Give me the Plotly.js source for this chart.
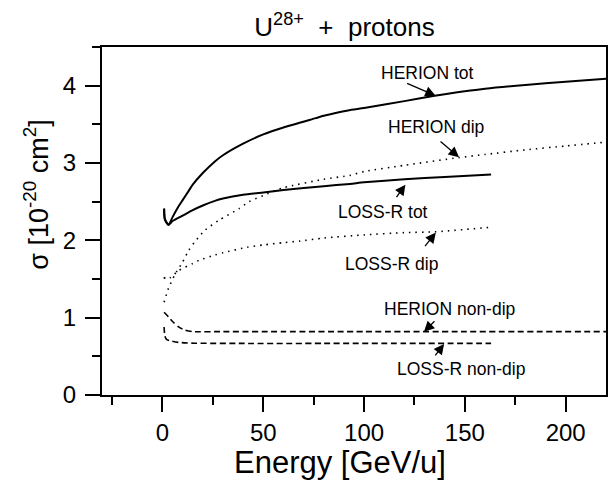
<!DOCTYPE html>
<html>
<head>
<meta charset="utf-8">
<script src="https://cdn.plot.ly/plotly-3.0.1.min.js"></script>
<style>html,body{margin:0;padding:0;background:#fff;}</style>
</head>
<body>
<div id="chart" style="width:613px;height:480px;"></div>
<script>
// Energy [GeV/u] and cross sections [1e-20 cm^2]
var herionTotE = [0.8, 1.2, 3, 5, 8, 10, 13, 15, 20, 26, 30, 40, 50, 60, 76, 80, 92, 100, 120, 135, 140, 160, 180, 200, 220];
var herionTotS = [2.41, 2.27, 2.2, 2.3, 2.44, 2.52, 2.64, 2.72, 2.87, 3.02, 3.1, 3.25, 3.37, 3.46, 3.58, 3.61, 3.68, 3.71, 3.8, 3.87, 3.89, 3.96, 4.01, 4.05, 4.09];

var lossTotE = [0.8, 1.2, 3, 5, 10, 15, 20, 26, 30, 40, 50, 60, 80, 93, 100, 120, 140, 163];
var lossTotS = [2.41, 2.27, 2.2, 2.25, 2.32, 2.39, 2.45, 2.51, 2.54, 2.59, 2.62, 2.65, 2.7, 2.73, 2.75, 2.79, 2.82, 2.85];

var herionDipE = [0.8, 3, 6, 10, 13, 16, 21, 28, 38, 43, 50, 60, 80, 93, 100, 120, 147, 160, 180, 200, 220];
var herionDipS = [1.2, 1.38, 1.55, 1.72, 1.87, 1.98, 2.13, 2.26, 2.41, 2.5, 2.58, 2.68, 2.79, 2.84, 2.89, 2.97, 3.07, 3.11, 3.17, 3.22, 3.27];

var lossDipE = [0.6, 2, 4, 8, 15, 18, 26, 30, 42, 50, 60, 68, 80, 100, 120, 135, 163];
var lossDipS = [1.52, 1.5, 1.52, 1.61, 1.7, 1.74, 1.81, 1.84, 1.91, 1.94, 1.97, 1.99, 2.03, 2.07, 2.1, 2.11, 2.17];

var herionNonE = [0.8, 3, 5, 8, 11, 15, 30, 60, 100, 150, 220];
var herionNonS = [1.07, 1.01, 0.95, 0.88, 0.84, 0.82, 0.82, 0.82, 0.82, 0.82, 0.82];

var lossNonE = [0.8, 1.2, 2, 4, 8, 16, 40, 80, 120, 163];
var lossNonS = [0.88, 0.76, 0.72, 0.7, 0.68, 0.67, 0.667, 0.667, 0.667, 0.667];

var labelText = ['HERION tot', 'HERION dip', 'LOSS-R tot', 'LOSS-R dip', 'HERION non-dip', 'LOSS-R non-dip'];
var labelE = [131.3, 135.7, 109.4, 113.4, 142.6, 148.1];
var labelS = [4.17, 3.46, 2.36, 1.69, 1.11, 0.34];
var arrowE = [135.5, 147.1, 120.5, 135.6, 129.7, 139.7];
var arrowS = [3.87, 3.075, 2.72, 2.1, 0.817, 0.66];
var arrowAx = [-30, -20, -10, -12, 12, -10];
var arrowAy = [-13, -17, 14, 15, -12, 13];

var FONT = 'Liberation Sans, Arial, sans-serif';

function tr(x, y, dash, w) {
  return {x: x, y: y, mode: 'lines', type: 'scatter', hoverinfo: 'skip',
          line: {color: '#000', width: w, dash: dash, shape: 'spline', smoothing: 0.6}};
}
var data = [
  tr(herionTotE, herionTotS, 'solid', 2),
  tr(lossTotE, lossTotS, 'solid', 2),
  tr(herionDipE, herionDipS, '1.5px,5px', 1.6),
  tr(lossDipE, lossDipS, '1.5px,5px', 1.6),
  tr(herionNonE, herionNonS, '6px,3.5px', 1.6),
  tr(lossNonE, lossNonS, '6px,3.5px', 1.6)
];

var ann = [];
for (var i = 0; i < labelText.length; i++) {
  ann.push({x: labelE[i], y: labelS[i], xref: 'x', yref: 'y', text: labelText[i], showarrow: false,
            font: {family: FONT, size: 17.5, color: '#000'}});
  ann.push({x: arrowE[i], y: arrowS[i], xref: 'x', yref: 'y', text: '', showarrow: true,
            ax: arrowAx[i], ay: arrowAy[i], arrowhead: 2, arrowsize: 1.6, arrowwidth: 1.3, arrowcolor: '#000'});
}
// axis titles placed as annotations for precise positioning
ann.push({xref: 'paper', yref: 'paper', x: -0.13, y: 0.577, xanchor: 'center', yanchor: 'middle',
          textangle: -90, showarrow: false, text: 'σ [10<sup>-20</sup> cm<sup>2</sup>]',
          font: {family: FONT, size: 27, color: '#000'}});
ann.push({xref: 'paper', yref: 'paper', x: 0.473, y: -0.193, xanchor: 'center', yanchor: 'middle',
          showarrow: false, text: 'Energy [GeV/u]',
          font: {family: FONT, size: 31, color: '#000'}});

var axBase = {showline: true, linecolor: '#000', linewidth: 2, mirror: true, showgrid: false, zeroline: false,
              ticks: 'outside', ticklen: 15, tickwidth: 2, tickcolor: '#000',
              tickfont: {family: FONT, size: 24, color: '#000'}};

var layout = {
  width: 613, height: 480,
  margin: {l: 102, r: 7, t: 47, b: 85},
  paper_bgcolor: '#fff', plot_bgcolor: '#fff',
  showlegend: false,
  title: {text: 'U<sup>28+</sup>  +  protons', font: {family: FONT, size: 26, color: '#000'}, x: 0.562, xanchor: 'center', y: 0.944, yanchor: 'middle'},
  xaxis: Object.assign({}, axBase, {range: [-30, 220], tick0: 0, dtick: 50,
    minor: {ticks: 'outside', ticklen: 8, tickwidth: 2, tickcolor: '#000', dtick: 25, tick0: 0}}),
  yaxis: Object.assign({}, axBase, {range: [0, 4.5], tick0: 0, dtick: 1, ticklabelstandoff: 4,
    minor: {ticks: 'outside', ticklen: 8, tickwidth: 2, tickcolor: '#000', dtick: 0.5, tick0: 0}}),
  annotations: ann
};

Plotly.newPlot('chart', data, layout, {staticPlot: true, displayModeBar: false});
</script>
</body>
</html>
